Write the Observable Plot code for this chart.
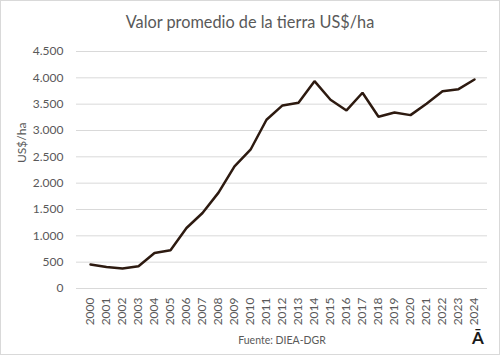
<!DOCTYPE html>
<html>
<head>
<meta charset="utf-8">
<script src="https://cdn.jsdelivr.net/npm/d3@7"></script>
<script src="https://cdn.jsdelivr.net/npm/@observablehq/plot@0.6"></script>
<style>
  body { margin: 0; background: white; }
  #wrap { position: relative; width: 500px; height: 355px; overflow: hidden; font-family: Lato, "Open Sans", sans-serif; }
  #title { height: 40px; line-height: 44px; text-align: center; font-size: 16.3px; color: #595959; }
  #border { position: absolute; left: 0; top: 0; width: 500px; height: 355px; box-sizing: border-box; border: 1px solid #d9d9d9; pointer-events: none; }
  #mark { position: absolute; left: 472px; top: 327px; font-size: 17px; font-weight: bold; color: #1a1a1a; }
</style>
</head>
<body>
<div id="wrap">
  <div id="title">Valor promedio de la tierra US$/ha</div>
  <div id="chart"></div>
  <div id="mark">Ā</div>
  <div id="border"></div>
</div>
<script>
const years = ["2000","2001","2002","2003","2004","2005","2006","2007","2008","2009","2010","2011","2012","2013","2014","2015","2016","2017","2018","2019","2020","2021","2022","2023","2024"];
const values = [455, 410, 380, 423, 675, 726, 1149, 1434, 1820, 2319, 2635, 3204, 3476, 3527, 3937, 3584, 3381, 3717, 3262, 3343, 3292, 3508, 3747, 3785, 3969];
const yTicks = [0, 500, 1000, 1500, 2000, 2500, 3000, 3500, 4000, 4500];
const yLabel = "US$/ha";
const caption = "Fuente: DIEA-DGR";

const data = years.map((y, i) => ({year: y, value: values[i]}));
const fmt = d3.formatLocale({decimal: ",", thousands: ".", grouping: [3], currency: ["", ""]}).format(",d");

const chart = Plot.plot({
  width: 500,
  height: 315,
  marginTop: 11,
  marginBottom: 67,
  marginLeft: 76,
  marginRight: 13,
  style: {fontFamily: "Lato, 'Open Sans', sans-serif", fontSize: "12px", color: "#595959", background: "transparent"},
  x: {type: "point", domain: years, padding: 0.5},
  y: {domain: [0, 4500]},
  marks: [
    Plot.ruleY(yTicks, {stroke: "#d9d9d9", strokeWidth: 1}),
    Plot.axisY({ticks: yTicks, tickSize: 0, tickPadding: 13, tickFormat: fmt, label: null, fontSize: 12}),
    Plot.axisX({tickSize: 0, tickPadding: 9, tickRotate: -90, label: null, fontSize: 12}),
    Plot.line(data, {x: "year", y: "value", stroke: "#2d1a10", strokeWidth: 2.5, strokeLinejoin: "miter"}),
    Plot.text([yLabel], {frameAnchor: "left", dx: -54, dy: -7, rotate: -90, text: d => d, fill: "#595959", fontSize: 12}),
    Plot.text([caption], {frameAnchor: "bottom", dy: 55, text: d => d, fill: "#595959", fontSize: 10.5})
  ]
});
document.getElementById("chart").appendChild(chart);
</script>
</body>
</html>
